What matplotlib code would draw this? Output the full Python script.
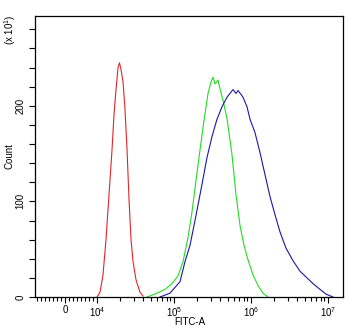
import matplotlib
matplotlib.use('Agg')
import matplotlib.pyplot as plt
from matplotlib.ticker import FixedLocator, NullFormatter

plt.rcParams['font.family'] = ['Liberation Sans', 'DejaVu Sans']
plt.rcParams['mathtext.default'] = 'regular'

# FITC-A intensity / count
red_x = [10000, 10940, 11960, 13090, 14320, 15670, 16630, 17660, 18750, 19600,
         20510, 21780, 23120, 24550, 26060, 27670, 29380, 32100, 36150, 39540]
red_y = [0, 5, 23, 60, 107, 154, 191, 217, 240, 245,
         238, 225, 196, 154, 102, 60, 37, 18, 5, 1]

green_x = [44560, 56620, 76360, 94180, 112700, 130900, 152000, 171300, 193100,
           217700, 245400, 276700, 302800, 320900, 340700, 372500, 395300,
           432400, 487500, 566200, 638300, 719600, 811200, 914500, 1062000,
           1233000, 1432000, 1663000]
green_y = [0, 3, 8, 14, 22, 37, 62, 89, 122, 154, 185, 213, 225, 230, 223, 227,
           218, 206, 187, 149, 107, 75, 54, 39, 23, 12, 4, 0]

blue_x = [65790, 88700, 119700, 138900, 161400, 187400, 217700, 268500, 311800,
          361700, 420000, 487500, 533400, 583700, 638300, 677700, 741300, 787100,
          887500, 970900, 1127000, 1309000, 1520000, 1766000, 2051000, 2382000,
          2852000, 3510000, 4328000, 5335000, 6383000, 7871000, 9417000, 11610000]
blue_y = [0, 4, 16, 37, 54, 80, 107, 146, 168, 186, 199, 209, 213, 217, 213, 216,
          212, 209, 199, 186, 172, 151, 128, 105, 86, 68, 51, 38, 27, 20, 14, 8, 3, 0]

x_major = [0, 1e4, 1e5, 1e6, 1e7]
x_labels = ['0', '$10^4$', '$10^5$', '$10^6$', '$10^7$']
y_major = [0, 100, 200]

fig = plt.figure(figsize=(3.5, 3.29), dpi=100)
ax = fig.add_axes([0.1, 0.0973, 0.88, 0.8541])

ax.plot(red_x, red_y, color='#e0262a', lw=0.8)
ax.plot(green_x, green_y, color='#22dd22', lw=0.8)
ax.plot(blue_x, blue_y, color='#1818a8', lw=0.8)

ax.set_xscale('symlog', linthresh=1e4, linscale=0.374)
ax.set_xlim(-9375, 1.566e7)
ax.set_ylim(0, 294)

# ticks
ax.xaxis.set_major_locator(FixedLocator(x_major))
ax.set_xticklabels(x_labels)
lin_minor = [i * 1250 for i in range(-7, 8) if i != 0]
log_minor = [m * 10 ** d for d in (4, 5, 6) for m in range(2, 10)]
ax.xaxis.set_minor_locator(FixedLocator(lin_minor + log_minor))
ax.xaxis.set_minor_formatter(NullFormatter())

ax.yaxis.set_major_locator(FixedLocator(y_major))
ax.yaxis.set_minor_locator(FixedLocator([v for v in range(20, 294, 20) if v % 100]))
ax.yaxis.set_minor_formatter(NullFormatter())

ax.tick_params(axis='both', which='both', direction='out', width=0.8, labelsize=7)
ax.tick_params(axis='x', which='major', length=4, pad=2)
ax.tick_params(axis='x', which='minor', length=3)
ax.tick_params(axis='y', which='both', length=4, pad=3)
ax.tick_params(axis='y', which='major', labelrotation=90)
for lab in ax.get_yticklabels():
    lab.set_va('center')

for s in ax.spines.values():
    s.set_linewidth(0.9)

fig.text(0.543, 0.02, 'FITC-A', fontsize=7, ha='center', va='center')
fig.text(0.028, 0.525, 'Count', rotation=90, fontsize=7, ha='center', va='center')
fig.text(0.028, 0.91, '(x 10$^1$)', rotation=90, fontsize=7, ha='center', va='center')

fig.savefig('out.png', dpi=100)
